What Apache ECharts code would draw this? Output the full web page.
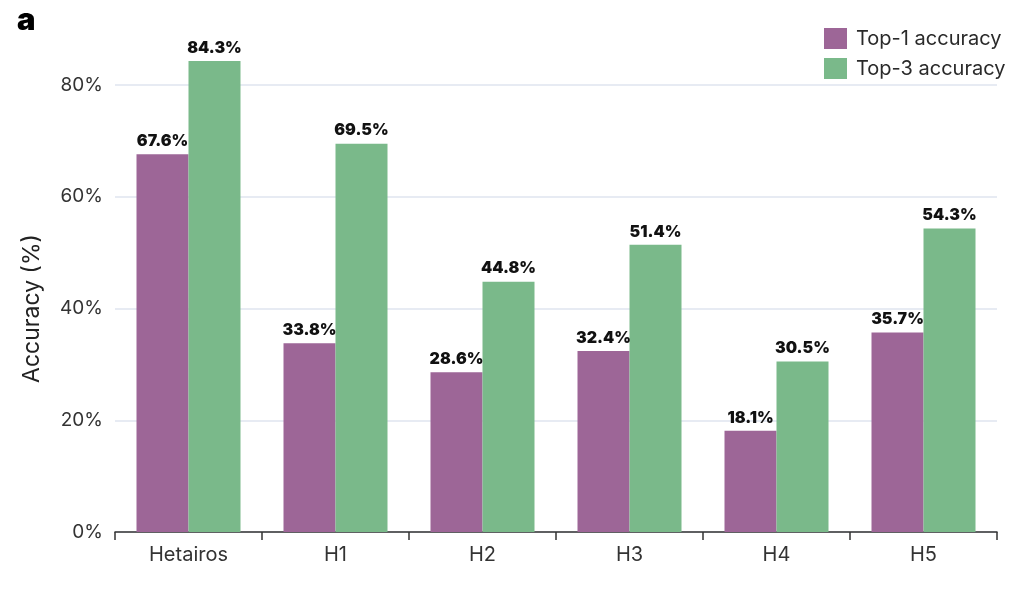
<!DOCTYPE html>
<html>
<head>
<meta charset="utf-8">
<script src="https://cdn.jsdelivr.net/npm/echarts@6/dist/echarts.min.js"></script>
<style>html,body{margin:0;padding:0;background:#fff;}#c{width:1024px;height:590px;}</style>
</head>
<body>
<div id="c"></div>
<script>
const categories = ['Hetairos', 'H1', 'H2', 'H3', 'H4', 'H5'];
const top1 = [67.6, 33.8, 28.6, 32.4, 18.1, 35.7];
const top3 = [84.3, 69.5, 44.8, 51.4, 30.5, 54.3];
const seriesNames = ['Top-1 accuracy', 'Top-3 accuracy'];
const yTicks = [0, 20, 40, 60, 80];

const chart = echarts.init(document.getElementById('c'), null, {renderer: 'canvas'});
const font = 'Inter, "Noto Sans", sans-serif';
const labelCfg = {
  show: true, position: 'top', distance: 5,
  formatter: p => p.value.toFixed(1) + '%',
  color: '#111', fontSize: 16, fontWeight: 900, fontFamily: font
};
chart.setOption({
  animation: false,
  textStyle: {fontFamily: font},
  graphic: [{
    type: 'text', left: 17, top: 5,
    style: {text: 'a', fontSize: 31, fontWeight: 900, fill: '#000', fontFamily: font}
  }],
  legend: {
    orient: 'vertical', left: 819, top: 23,
    itemWidth: 23, itemHeight: 21, itemGap: 9,
    icon: 'rect',
    textStyle: {fontSize: 20, color: '#2a2a2a', padding: [0, 0, 0, 4], fontFamily: font},
    data: seriesNames
  },
  grid: {left: 115, right: 27, top: 85, bottom: 58, containLabel: false},
  xAxis: {
    type: 'category', data: categories,
    axisLine: {lineStyle: {color: '#333', width: 1.5}},
    axisTick: {show: true, length: 8, lineStyle: {color: '#333', width: 1.5}},
    axisLabel: {fontSize: 20, color: '#333', margin: 13, fontFamily: font}
  },
  yAxis: {
    type: 'value', min: yTicks[0], max: yTicks[yTicks.length - 1], interval: 20,
    name: 'Accuracy (%)', nameLocation: 'middle', nameGap: 71,
    nameTextStyle: {fontSize: 23, color: '#222', fontFamily: font},
    axisLine: {show: false}, axisTick: {show: false},
    axisLabel: {formatter: v => v + '%', fontSize: 19, color: '#333', margin: 12, fontFamily: font},
    splitLine: {lineStyle: {color: '#dfe4ef', width: 1.5}}
  },
  series: [
    {name: seriesNames[0], type: 'bar', data: top1, barWidth: 52, barGap: '0%', clip: false,
     itemStyle: {color: '#9d6697'}, label: labelCfg},
    {name: seriesNames[1], type: 'bar', data: top3, barWidth: 52, barGap: '0%', clip: false,
     itemStyle: {color: '#7ab98a'}, label: labelCfg}
  ]
});
</script>
</body>
</html>
